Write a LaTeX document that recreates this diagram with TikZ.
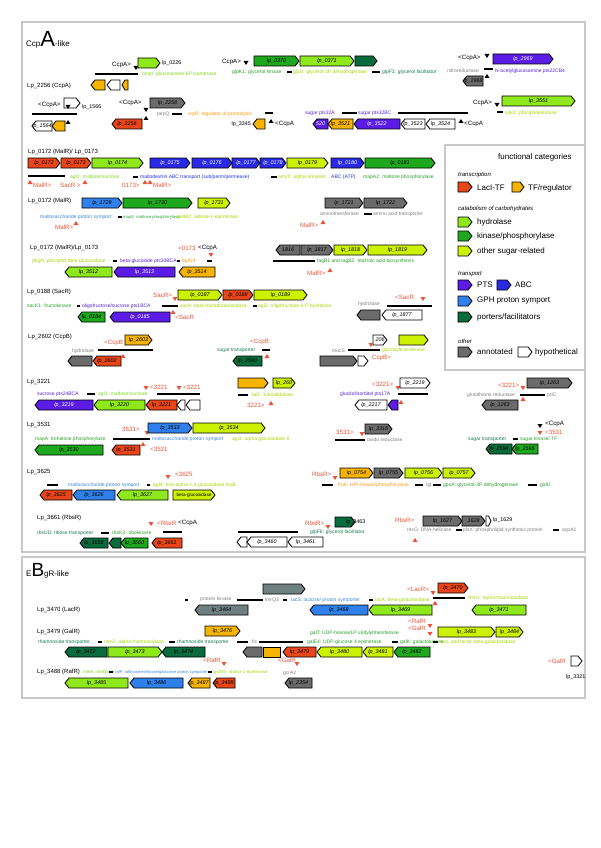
\documentclass[tikz,border=0pt]{standalone}
\usepackage{fontspec}
\setmainfont{Liberation Sans}
\definecolor{cla}{HTML}{E8461A}
\definecolor{ctf}{HTML}{F6B300}
\definecolor{chy}{HTML}{8FE81C}
\definecolor{cki}{HTML}{1DA81D}
\definecolor{cot}{HTML}{CCF200}
\definecolor{cpt}{HTML}{5B1DE6}
\definecolor{cab}{HTML}{2A2AE6}
\definecolor{cgp}{HTML}{2F80EA}
\definecolor{cpo}{HTML}{0A6B3C}
\definecolor{can}{HTML}{6B6B6B}
\definecolor{csl}{HTML}{6E8080}
\definecolor{creg}{HTML}{E8553A}
\definecolor{tla}{HTML}{E8461A}
\definecolor{ttf}{HTML}{F39C12}
\definecolor{thy}{HTML}{7FD81E}
\definecolor{tki}{HTML}{2AA02A}
\definecolor{tot}{HTML}{A6D800}
\definecolor{tpt}{HTML}{5522DD}
\definecolor{tab}{HTML}{2233DD}
\definecolor{tgp}{HTML}{3A86E0}
\definecolor{tpo}{HTML}{157A4F}
\definecolor{tan}{HTML}{808080}
\definecolor{frm}{HTML}{C8C8C8}
\tikzset{
 gene/.style={draw=black,line width=0.8pt,line join=miter},
 glab/.style={font=\fontsize{5.4}{5.4}\selectfont\itshape,inner sep=0pt},
 gf-la/.style={fill=cla}, gt-la/.style={text=black},
 gf-tf/.style={fill=ctf}, gt-tf/.style={text=black},
 gf-hy/.style={fill=chy}, gt-hy/.style={text=black},
 gf-ki/.style={fill=cki}, gt-ki/.style={text=black},
 gf-ot/.style={fill=cot}, gt-ot/.style={text=black},
 gf-pt/.style={fill=cpt}, gt-pt/.style={text=white},
 gf-ab/.style={fill=cab}, gt-ab/.style={text=white},
 gf-gp/.style={fill=cgp}, gt-gp/.style={text=black},
 gf-po/.style={fill=cpo}, gt-po/.style={text=black},
 gf-an/.style={fill=can}, gt-an/.style={text=black},
 gf-sl/.style={fill=csl}, gt-sl/.style={text=black},
 gf-hp/.style={fill=white}, gt-hp/.style={text=black},
 seg/.style={line width=1.8pt,black},
 rtxt/.style={font=\fontsize{6.2}{6.2}\selectfont,text=creg,inner sep=0pt},
 btxt/.style={font=\fontsize{6.2}{6.2}\selectfont,text=black,inner sep=0pt},
 stxt/.style={font=\fontsize{5}{5}\selectfont,inner sep=0pt},
 gtxt/.style={font=\fontsize{5.4}{5.4}\selectfont,inner sep=0pt},
 rowt/.style={font=\fontsize{6}{6}\selectfont,inner sep=0pt},
 frame/.style={draw=frm,line width=1.1pt},
 legt/.style={font=\fontsize{8}{8}\selectfont,inner sep=0pt,anchor=west},
 legh/.style={font=\fontsize{6}{6}\selectfont\itshape,inner sep=0pt,anchor=west},
}
\newcommand\lpn[1]{lp\_#1}
\newcommand\gR[5]{%
 \pgfmathsetmacro\gtip{min(4,(#2-#1)/2)}%
 \draw[gene,gf-#4] (#1,#3) -- ({#2-\gtip},#3) -- (#2,{#3+5}) -- ({#2-\gtip},{#3+10}) -- (#1,{#3+10}) -- cycle;
 \node[glab,gt-#4] at ({(#1+#2)/2},{#3+5}) {#5};}
\newcommand\gL[5]{%
 \pgfmathsetmacro\gtip{min(4,(#2-#1)/2)}%
 \draw[gene,gf-#4] (#2,#3) -- ({#1+\gtip},#3) -- (#1,{#3+5}) -- ({#1+\gtip},{#3+10}) -- (#2,{#3+10}) -- cycle;
 \node[glab,gt-#4] at ({(#1+#2)/2},{#3+5}) {#5};}
\newcommand\gBx[5]{%
 \draw[gene,gf-#4] (#1,#3) rectangle (#2,{#3+10});
 \node[glab,gt-#4] at ({(#1+#2)/2},{#3+5}) {#5};}
\newcommand\rg[3]{\node[rtxt,anchor=west] at (#1,#2) {#3};}
\newcommand\bk[3]{\node[btxt,anchor=west] at (#1,#2) {#3};}
\newcommand\stx[4]{\node[stxt,text=#3,anchor=west] at (#1,#2) {#4};}
\newcommand\stxs[5]{\node[stxt,text=#3,anchor=west,font=\fontsize{#4}{#4}\selectfont] at (#1,#2) {#5};}
\newcommand\gtx[3]{\node[gtxt,anchor=west] at (#1,#2) {#3};}
\newcommand\segm[3]{\draw[seg] (#1,#3) -- (#2,#3);}
\newcommand\tdn[3]{\fill[#3] ({#1-2.5},{#2-2}) -- ({#1+2.5},{#2-2}) -- (#1,{#2+2}) -- cycle;}
\newcommand\tup[3]{\fill[#3] ({#1-2.5},{#2+2}) -- ({#1+2.5},{#2+2}) -- (#1,{#2-2}) -- cycle;}
\newcommand\rowl[3]{\node[rowt,anchor=west] at (#1,#2) {#3};}
\begin{document}
\begin{tikzpicture}[x=1pt,y=-1pt]
\useasboundingbox (0,0) rectangle (600,848);
\fill[white] (0,0) rectangle (600,848);
\draw[frame] (22,22) rectangle (585,552);
\draw[frame] (22,557) rectangle (585,698);
\node[anchor=base west,inner sep=0pt] (titleA) at (26,47) {\fontsize{8}{8}\selectfont Ccp\fontsize{22}{22}\selectfont A\fontsize{8}{8}\selectfont -like};
\node[anchor=base west,inner sep=0pt] (titleB) at (26,576) {\fontsize{8}{8}\selectfont E\fontsize{19}{19}\selectfont B\fontsize{8}{8}\selectfont gR-like};
% ---------- legend
\draw[frame] (445,145) rectangle (585,370);
\node[legt] at (498,157) {functional categories};
\node[legh] at (458,175) {transcription};
\gR{458}{472}{182}{la}{}\node[legt] at (477,188) {LacI-TF};
\gR{512}{524}{182}{tf}{}\node[legt] at (528,188) {TF/regulator};
\node[legh] at (458,209) {catabolism of carbohydrates};
\gR{458}{472}{217}{hy}{}\node[legt] at (477,222) {hydrolase};
\gR{458}{472}{231}{ki}{}\node[legt] at (477,236) {kinase/phosphorylase};
\gR{458}{472}{246}{ot}{}\node[legt] at (477,251) {other sugar-related};
\node[legh] at (458,274) {transport};
\gR{458}{472}{280}{pt}{}\node[legt] at (477,285) {PTS};
\gR{497}{511}{280}{ab}{}\node[legt] at (515,285) {ABC};
\gR{458}{472}{296}{gp}{}\node[legt] at (477,301) {GPH proton symport};
\gR{458}{472}{312}{po}{}\node[legt] at (477,317) {porters/facilitators};
\node[legh] at (458,341) {other};
\gR{458}{472}{347}{an}{}\node[legt] at (477,352) {annotated};
\gR{518}{532}{347}{hp}{}\node[legt] at (535,352) {hypothetical};
% ---------- row 1 left
\bk{112}{65}{CcpA>}
\tdn{136}{68}{black}
\gR{138}{160}{58}{hy}{}
\gtx{162}{63}{\lpn{0226}}
\segm{95}{138}{74}
\stx{142}{74}{thy}{pmpI: glucosamine-6P isomerase}
\rowl{27}{86}{Lp\_2256 (CcpA)}
\gL{91}{105}{80}{tf}{}
\gL{107}{120}{80}{hp}{}
\gL{122}{128}{80}{tf}{}
\bk{38}{105}{<CcpA>}
\gR{64}{80}{98}{hp}{}
\tdn{68}{107}{black}
\gtx{82}{107}{\lpn{1566}}
\segm{32}{77}{114}
\gL{32}{52}{121}{hp}{\lpn{1564}}
\gL{52}{65}{121}{tf}{}
\tup{68}{122}{black}
\bk{119}{103}{<CcpA>}
\tdn{146}{110}{black}
\gR{150}{185}{98}{an}{\lpn{2258}}
\stx{157}{114}{tan}{pepQ}
\segm{172}{182}{114}
\tup{146}{118}{black}
\gL{112}{142}{119}{la}{\lpn{2256}}
\stx{188}{114}{ttf}{xrpR: regulator of proteolysis}
\segm{265}{273}{113}
\gL{253}{265}{119}{tf}{}
\node[gtxt,anchor=east] at (251,124) {\lpn{3345}};
\tup{271}{121}{black}
\bk{275}{124}{<CcpA}
% ---------- row 1 middle
\bk{222}{62}{CcpA>}
\tdn{246}{63}{black}
\gR{254}{299}{56}{ki}{\lpn{0370}}
\gR{300}{354}{56}{hy}{\lpn{0371}}
\gR{355}{377}{56}{po}{}
\stx{232}{72}{tki}{glpK1: glycerol kinase}
\segm{287}{292}{72}
\stx{293}{72}{tot}{glpD: glycerol-3P dehydrogenase}
\segm{372}{380}{72}
\stx{382}{72}{tpo}{glpF3: glycerol facilitator}
% ---------- row 1 right
\bk{458}{58}{<CcpA>}
\tdn{487}{56}{black}
\gR{493}{553}{54}{pt}{\lpn{2969}}
\stx{447}{71}{tan}{nitroreductase}
\segm{484}{493}{69}
\stx{495}{71}{tpt}{N-acetylglucosamine pts22CB4}
\tup{487}{76}{black}
\gL{463}{483}{76}{an}{\lpn{2968}}
\bk{473}{103}{CcpA>}
\tdn{497}{105}{black}
\gR{502}{575}{96}{hy}{\lpn{3551}}
\segm{497}{503}{112}
\stx{505}{113}{tot}{xpk2: phosphoketolase}
% ---------- row 2 middle
\stx{305}{113}{tpt}{sugar pts32A}
\segm{342}{357}{113}
\stx{358}{113}{tpt}{sugar pts32BC}
\segm{398}{468}{113}
\gL{313}{328}{119}{pt}{520}
\gL{328}{353}{119}{tf}{\lpn{3521}}
\gL{354}{400}{119}{pt}{\lpn{3522}}
\gL{401}{425}{119}{hp}{\lpn{3523}}
\gL{426}{455}{119}{hp}{\lpn{3524}}
\tup{461}{121}{black}
\bk{464}{124}{<CcpA}
% ---------- Lp_0172 (MalR)/ Lp_0173
\rowl{28}{152}{Lp\_0172 (MalR)/ Lp\_0173}
\gR{28}{60}{158}{la}{\lpn{0172}}
\gR{61}{91}{158}{la}{\lpn{0173}}
\gR{92}{143}{158}{hy}{\lpn{0174}}
\gR{150}{190}{158}{ab}{\lpn{0175}}
\gR{192}{232}{158}{ab}{\lpn{0176}}
\gR{232}{260}{158}{ab}{\lpn{0177}}
\gR{260}{286}{158}{ab}{\lpn{0178}}
\gR{287}{328}{158}{ot}{\lpn{0179}}
\gR{331}{364}{158}{ab}{\lpn{0180}}
\gR{365}{435}{158}{ki}{\lpn{0181}}
\segm{28}{65}{176}
\stx{70}{177}{thy}{agl1: maltase/sucrose}
\segm{133}{138}{177}
\stx{140}{177}{tab}{maltodextrin ABC transport (sub/perm/permease)}
\segm{271}{277}{177}
\stx{278}{177}{tot}{amy2: alpha-amylase}
\stx{331}{177}{tab}{ABC (ATP)}
\stx{363}{177}{tki}{mapA2: maltose phosphorylase}
\tup{30}{182}{creg}
\rg{33}{185}{MalR>}
\rg{60}{185}{SacR >}
\tup{85}{182}{creg}
\rg{122}{185}{0173>}
\tup{145}{182}{creg}
\tup{150}{182}{creg}
\rg{153}{185}{MalR>}
% ---------- Lp_0172 (MalR)
\rowl{28}{201}{Lp\_0172 (MalR)}
\gR{82}{122}{198}{gp}{\lpn{1729}}
\gR{123}{192}{198}{ki}{\lpn{1730}}
\gR{198}{230}{198}{ot}{\lpn{1731}}
\stx{40}{217}{tgp}{maltosaccharide proton symport}
\segm{118}{122}{217}
\stxs{123}{217}{tki}{4.2}{map3: maltose phosphorylase}
\stx{177}{217}{tot}{galM2: aldose-1-epimerase}
\rg{55}{227}{MalR>}
\tup{76}{223}{creg}
\gR{325}{363}{198}{an}{\lpn{1721}}
\gR{364}{407}{198}{an}{\lpn{1722}}
\stx{320}{214}{tan}{aminotransferase}
\segm{364}{372}{214}
\stx{373}{214}{tan}{amino acid transporter}
\rg{300}{225}{MalR>}
\tup{323}{222}{creg}
% ---------- Lp_0172 (MalR)/Lp_0173
\rowl{30}{248}{Lp\_0172 (MalR)/Lp\_0173}
\rg{178}{248}{<0173}
\bk{198}{248}{<CcpA}
\tdn{211}{255}{creg}
\stx{32}{261}{tot}{pbgR: phospho-beta-glucosidase}
\segm{113}{117}{261}
\stx{120}{261}{tpt}{beta-glucoside pts30BCA}
\segm{177}{180}{261}
\stx{182}{261}{ttf}{bglG4}
\segm{207}{212}{261}
\gL{65}{112}{267}{hy}{\lpn{3512}}
\gL{114}{175}{267}{pt}{\lpn{3513}}
\gL{179}{215}{267}{tf}{\lpn{3514}}
\gL{276}{300}{245}{an}{1816}
\gR{301}{333}{245}{an}{\lpn{1817}}
\gR{334}{367}{245}{ot}{\lpn{1818}}
\gR{368}{427}{245}{ot}{\lpn{1819}}
\segm{273}{315}{261}
\stx{317}{261}{tki}{tagB1 and tagB2: teichoic acid biosynthesis}
\rg{307}{273}{MalR>}
\tup{330}{270}{creg}
% ---------- Lp_0188 (SacR)
\rowl{27}{292}{Lp\_0188 (SacR)}
\rg{153}{295}{SacR>}
\tdn{175}{299}{creg}
\gR{178}{222}{290}{ot}{\lpn{0187}}
\gR{223}{253}{290}{la}{\lpn{0188}}
\gR{254}{307}{290}{ot}{\lpn{0189}}
\stx{27}{306}{tki}{sacK1: fructokinase}
\segm{77}{80}{306}
\stx{82}{306}{tpt}{oligofructose/sucrose pts1BCA}
\segm{162}{178}{306}
\stx{180}{306}{tot}{sacA: beta-fructofuranosidase}
\segm{253}{257}{306}
\stx{258}{306}{tot}{agl2: oligofructose 6-P hydrolase}
\gL{78}{105}{312}{ki}{\lpn{0184}}
\gL{110}{170}{312}{pt}{\lpn{0185}}
\tup{173}{312}{creg}
\rg{175}{317}{<SacR}
\stx{358}{304}{tan}{hydrolase}
\segm{387}{432}{306}
\rg{395}{297}{<SacR}
\tdn{423}{299}{creg}
\gL{357}{380}{310}{an}{}
\gL{382}{422}{310}{hp}{\lpn{1877}}
% ---------- Lp_2602 (CcpB)
\rowl{28}{337}{Lp\_2602 (CcpB)}
\gR{125}{152}{335}{tf}{\lpn{2603}}
\rg{104}{343}{<CcpB}
\stx{72}{351}{tan}{hydrolase}
\segm{98}{153}{350}
\gL{68}{92}{356}{an}{}
\gL{93}{121}{356}{la}{\lpn{2602}}
\tup{123}{356}{creg}
\rg{250}{342}{<CcpB}
\stx{217}{350}{tpo}{sugar transporter}
\segm{262}{270}{350}
\tup{267}{356}{creg}
\gL{233}{262}{356}{po}{\lpn{2590}}
\gR{373}{387}{335}{hp}{206}
\tdn{371}{345}{creg}
\stx{332}{351}{tan}{mocS}
\segm{348}{380}{350}
\stx{382}{350}{tot}{glycosyltransferase}
\gR{399}{428}{335}{ot}{}
\gR{320}{357}{356}{an}{}
\gR{358}{368}{356}{hp}{}
\rg{372}{358}{CcpB>}
% ---------- Lp_3221
\rowl{27}{382}{Lp\_3221}
\tdn{146}{388}{creg}
\rg{150}{387}{<3221}
\tdn{179}{388}{creg}
\rg{183}{387}{<3221}
\stx{37}{394}{tpt}{sucrose pts24BCA}
\segm{87}{95}{394}
\stx{98}{394}{thy}{agl1: maltase/sucrase}
\segm{157}{200}{394}
\gL{35}{93}{400}{pt}{\lpn{3219}}
\gL{94}{145}{400}{hy}{\lpn{3220}}
\gL{146}{177}{400}{la}{\lpn{3221}}
\gL{177}{185}{400}{hp}{}
\gL{186}{200}{400}{hp}{}
\gR{238}{268}{378}{tf}{}
\gR{273}{295}{378}{ot}{\lpn{260}}
\segm{238}{248}{395}
\stx{252}{395}{tot}{tal1: transaldolase}
\rg{247}{405}{3221>}
\tup{271}{403}{creg}
\rg{372}{384}{<3221>}
\tdn{398}{388}{creg}
\gR{400}{430}{378}{hp}{\lpn{2219}}
\stx{340}{394}{tpt}{glucitol/sorbitol pts17A}
\segm{398}{428}{394}
\gL{355}{387}{400}{hp}{\lpn{2217}}
\gL{388}{398}{400}{pt}{}
\tup{401}{402}{creg}
\rg{498}{385}{<3221>}
\tdn{523}{388}{creg}
\gR{527}{572}{378}{an}{\lpn{1263}}
\stx{467}{395}{tan}{glutathione reductase}
\segm{520}{545}{395}
\stx{547}{395}{tan}{prlC}
\tup{523}{399}{creg}
\gL{482}{518}{400}{an}{\lpn{1263}}
% ---------- Lp_3531
\rowl{27}{425}{Lp\_3531}
\rg{122}{429}{3531>}
\tdn{147}{433}{creg}
\gR{148}{192}{423}{gp}{\lpn{3533}}
\gR{193}{265}{423}{ot}{\lpn{3534}}
\stx{35}{439}{tki}{mapA: trehalose phosphorylase}
\segm{113}{150}{439}
\stx{152}{439}{tgp}{maltosaccharide proton symport}
\stx{232}{439}{tot}{agl3: alpha-glucosidase II}
\gL{35}{103}{445}{ki}{\lpn{3530}}
\gL{112}{140}{445}{la}{\lpn{3531}}
\tup{143}{444}{creg}
\rg{150}{449}{<3531}
\rg{336}{432}{3531>}
\tdn{362}{434}{creg}
\gR{365}{392}{424}{an}{\lpn{3316}}
\segm{335}{365}{440}
\stx{367}{440}{tan}{oxido reductase}
\tdn{540}{426}{black}
\bk{545}{424}{<CcpA}
\tdn{540}{433}{creg}
\rg{545}{432}{<3531}
\stx{468}{439}{tpo}{sugar transporter}
\segm{513}{518}{439}
\stx{520}{439}{tki}{sugar kinase/ TF}
\gL{486}{512}{444}{po}{\lpn{2594}}
\gL{512}{538}{444}{ki}{\lpn{2595}}
% ---------- Lp_3625
\rowl{27}{472}{Lp\_3625}
\tdn{168}{477}{creg}
\rg{175}{474}{<3625}
\segm{47}{58}{485}
\stx{68}{485}{tgp}{maltosaccharide proton symport}
\segm{147}{150}{485}
\stx{153}{485}{tot}{agl4: exo-alpha-1,4-glucosidase malL}
\gL{40}{72}{490}{la}{\lpn{3625}}
\gL{73}{115}{490}{gp}{\lpn{3626}}
\gL{117}{168}{490}{hy}{\lpn{3627}}
\gR{173}{215}{490}{ot}{\upshape\fontsize{4.6}{4.6}\selectfont beta-glucosidase}
\rg{312}{474}{RbsR>}
\tdn{335}{478}{creg}
\gR{340}{373}{468}{tf}{\lpn{0754}}
\gR{374}{403}{468}{an}{\lpn{0755}}
\gR{405}{442}{468}{ot}{\lpn{0756}}
\gR{443}{475}{468}{ot}{\lpn{0757}}
\segm{322}{333}{485}
\stx{338}{485}{ttf}{fruK: HPr-kinase/phosphorylase}
\segm{415}{423}{485}
\stx{426}{485}{tan}{lgt}
\segm{433}{441}{485}
\stx{443}{485}{tki}{gpsA: glycerol-3P dehydrogenase}
\segm{528}{537}{485}
\stx{540}{485}{tki}{galU}
% ---------- Lp_3661 (RbsR)
\rowl{37}{518}{Lp\_3661 (RbsR)}
\tdn{151}{524}{creg}
\rg{157}{523}{<RbsR}
\bk{178}{523}{<CcpA}
\stx{37}{533}{tpo}{rbsUD: ribose transporter}
\segm{101}{109}{533}
\stx{112}{533}{tki}{rbsK3: ribokinase}
\segm{163}{182}{532}
\gL{80}{108}{538}{po}{\lpn{3658}}
\gL{109}{121}{538}{po}{}
\gL{121}{148}{538}{ki}{\lpn{3660}}
\gL{152}{182}{538}{la}{\lpn{3661}}
\rg{305}{523}{RbsR>}
\tdn{328}{527}{creg}
\gR{335}{355}{517}{po}{}
\gtx{346}{522}{\lpn{3463}}
\stx{310}{532}{tpo}{glpF6: glycerol facilitator}
\segm{238}{298}{532}
\gL{237}{247}{537}{hp}{}
\gL{247}{287}{537}{hp}{\lpn{3460}}
\gL{288}{323}{537}{hp}{\lpn{3461}}
\rg{395}{520}{RbsR>}
\tup{415}{540}{creg}
\gR{423}{462}{516}{an}{\lpn{1627}}
\gR{462}{485}{516}{an}{1628}
\gR{486}{491}{516}{hp}{}
\gtx{493}{520}{\lpn{1629}}
\stx{407}{530}{tan}{recG: DNA-helicase}
\segm{456}{462}{530}
\stx{463}{530}{tan}{plsX: phospholipid synthesis protein}
\segm{553}{559}{530}
\stx{562}{530}{tan}{acpA1}
% ========== B section
% Lp_3470 (LacR)
\rowl{37}{610}{Lp\_3470 (LacR)}
\segm{185}{188}{600}
\stx{200}{599}{tan}{protein kinase}
\segm{237}{263}{600}
\stx{265}{600}{tan}{lmrQ3}
\segm{283}{287}{600}
\stx{291}{600}{tgp}{lacS: lactose/ proton symporter}
\segm{369}{373}{600}
\stx{375}{600}{tot}{lacA: beta-galactosidase}
\segm{433}{465}{598}
\stx{468}{598}{tot}{rhm1: alpha-rhamnosidase}
\gR{263}{305}{584}{sl}{}
\gL{195}{248}{605}{sl}{\lpn{3464}}
\gL{310}{368}{605}{gp}{\lpn{3468}}
\gL{369}{432}{605}{hy}{\lpn{3469}}
\gR{438}{468}{583}{la}{\lpn{3470}}
\rg{407}{589}{<LacR>}
\tdn{433}{593}{creg}
\tup{435}{603}{creg}
\gL{472}{526}{605}{hy}{\lpn{3471}}
% Lp_3479 (GalR)
\rowl{37}{632}{Lp\_3479 (GalR)}
\gR{205}{240}{626}{tf}{\lpn{3476}}
\stx{310}{633}{tki}{galT: UDP-hexose1P uridylyltransferase}
\rg{408}{621}{<RafR}
\rg{408}{628}{<GalR}
\tdn{430}{626}{creg}
\tdn{430}{634}{creg}
\gR{438}{495}{627}{ot}{\lpn{3483}}
\gR{496}{523}{627}{ot}{\lpn{3484}}
\stx{38}{642}{tpo}{rhamnoside transporter}
\segm{98}{102}{642}
\stx{104}{642}{tot}{ram2: alpha rhamnosidase}
\segm{169}{175}{642}
\stx{177}{642}{tpo}{rhamnoside transporter}
\segm{237}{248}{642}
\stx{252}{642}{tan}{fic}
\segm{259}{303}{642}
\stx{307}{642}{tki}{galE4: UDP-glucose 4 epimerase}
\segm{392}{398}{642}
\stx{400}{642}{tki}{galK: galactokinase}
\segm{433}{438}{642}
\stx{440}{642}{tot}{lacL and lacM: beta galactosidase}
\gL{65}{107}{647}{po}{\lpn{3472}}
\gR{108}{162}{647}{hy}{\lpn{3473}}
\gL{162}{205}{647}{po}{\lpn{3474}}
\gL{243}{262}{647}{an}{}
\gBx{263}{280}{647}{tf}{}
\gL{283}{316}{647}{la}{\lpn{3479}}
\gL{317}{362}{647}{ot}{\lpn{3480}}
\gL{363}{393}{647}{ot}{\lpn{3481}}
\gL{394}{430}{647}{ki}{\lpn{3482}}
% Lp_3488 (RafR)
\rowl{37}{672}{Lp\_3488 (RafR)}
\rg{203}{660}{<RafR}
\tdn{224}{664}{creg}
\stxs{83}{672}{thy}{4.4}{melA: melibiose}
\segm{109}{113}{672}
\stxs{115}{672}{tgp}{4}{rafP: raffinose/melibiose/galactose proton symporter}
\segm{208}{212}{672}
\stxs{214}{672}{tot}{4.4}{galM3: aldose 1 epimerase}
\gL{65}{128}{678}{hy}{\lpn{3485}}
\gL{130}{183}{678}{gp}{\lpn{3486}}
\gL{188}{210}{678}{tf}{\lpn{3487}}
\gL{213}{235}{678}{la}{\lpn{3488}}
\rg{278}{660}{<GalR}
\tdn{297}{664}{creg}
\stx{283}{673}{tan}{gcrA2}
\gL{285}{312}{678}{an}{\lpn{2354}}
\rg{548}{661}{<GalR}
\gR{571}{582}{656}{hp}{}
\gtx{566}{677}{\lpn{3321}}
\end{tikzpicture}
\end{document}
